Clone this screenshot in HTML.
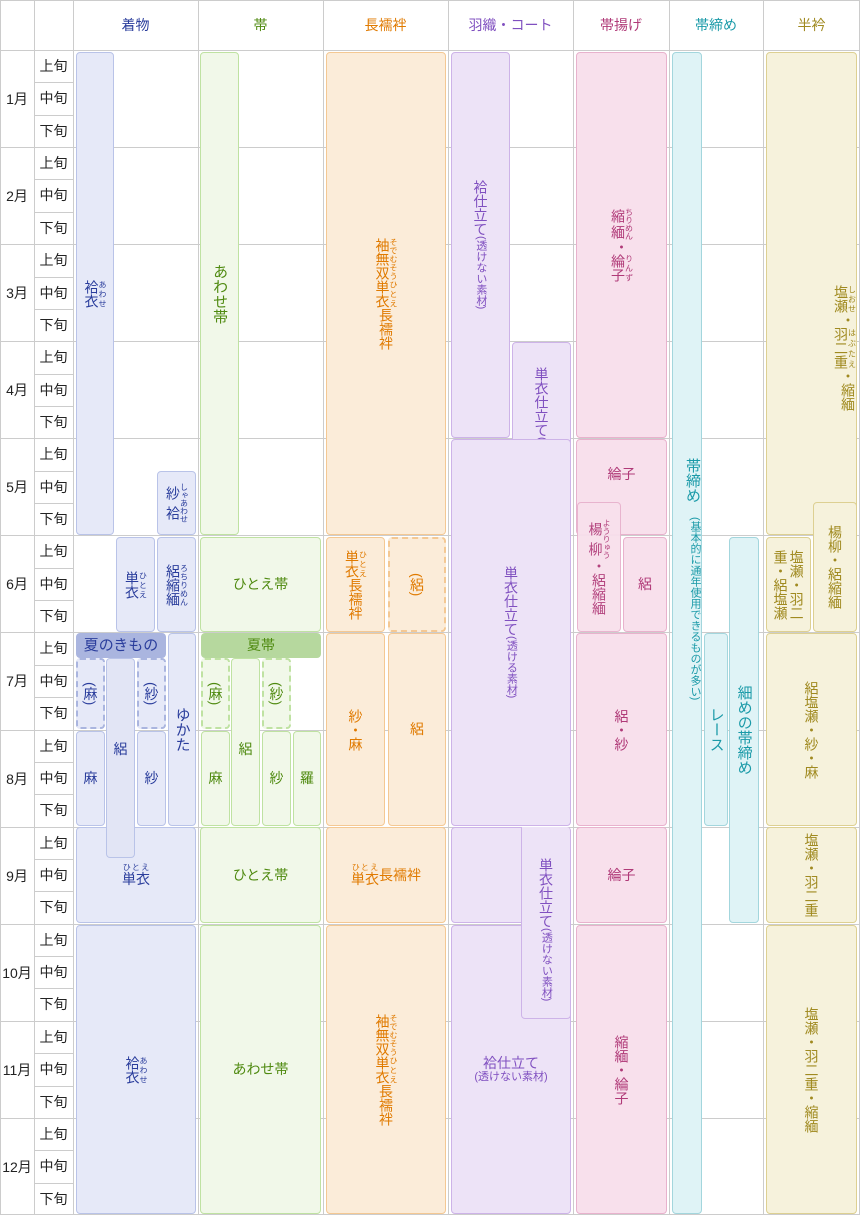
<!DOCTYPE html>
<html><head><meta charset="utf-8">
<style>
body{margin:0;background:#fff;font-family:"Liberation Sans","Noto Sans CJK JP",sans-serif;}
#wrap{position:relative;width:860px;height:1215px;overflow:hidden;}
.ln{position:absolute;background:#cccccc;}
.hd{position:absolute;top:0;height:50px;display:flex;align-items:center;justify-content:center;font-size:14px;}
.lab{position:absolute;display:flex;align-items:center;justify-content:center;font-size:14px;color:#222;}
.b{position:absolute;box-sizing:border-box;border:1px solid;border-radius:4px;display:flex;align-items:center;justify-content:center;font-size:14px;text-align:center;line-height:1.15;}
.v{writing-mode:vertical-rl;}
.s{font-size:11px;}
rt{font-size:8px;}
.dash{border-style:dashed;border-width:2px;}
.k{background:#e6e9f8;border-color:#b9c3e8;color:#2a3d9c;}
.o{background:#f1f8e9;border-color:#bfe2a2;color:#4f8a10;}
.n{background:#fbecd9;border-color:#f4c893;color:#e07a00;}
.h{background:#ede3f7;border-color:#cdb3e8;color:#8050c0;}
.a{background:#f8e0ec;border-color:#e8b2cd;color:#b03a78;}
.j{background:#dff3f6;border-color:#a3d6dd;color:#1a9aa8;}
.e{background:#f6f2dc;border-color:#ddd092;color:#a08a20;}
</style></head><body>
<div id="wrap">
<!-- header -->
<div class="hd" style="left:73px;width:125px;color:#2a3d9c">着物</div>
<div class="hd" style="left:198px;width:125px;color:#4f8a10">帯</div>
<div class="hd" style="left:323px;width:125px;color:#e07a00">長襦袢</div>
<div class="hd" style="left:448px;width:125px;color:#8050c0">羽織・コート</div>
<div class="hd" style="left:573px;width:96px;color:#b03a78">帯揚げ</div>
<div class="hd" style="left:669px;width:94px;color:#1a9aa8">帯締め</div>
<div class="hd" style="left:763px;width:97px;color:#a08a20">半衿</div>

<div id="grid"></div>

<!-- kimono -->
<div class="b k v" style="left:76px;top:52px;width:38px;height:483px"><ruby>袷衣<rt>あわせ</rt></ruby></div>
<div class="b k v" style="left:157px;top:471px;width:39px;height:64px"><ruby>紗袷<rt>しゃあわせ</rt></ruby></div>
<div class="b k v" style="left:116px;top:537px;width:39px;height:95px"><ruby>単衣<rt>ひとえ</rt></ruby></div>
<div class="b k v" style="left:157px;top:537px;width:39px;height:95px"><ruby>絽縮緬<rt>ろちりめん</rt></ruby></div>
<div class="b" style="left:76px;top:633px;width:90px;height:25px;background:#aab5df;border-color:#aab5df;color:#2a3d9c;font-size:15px">夏のきもの</div>
<div class="b k v" style="left:168px;top:633px;width:28px;height:193px;font-size:15px">ゆかた</div>
<div class="b k v dash" style="left:76px;top:658px;width:29px;height:71px;border-color:#aab5df">(麻)</div>
<div class="b k" style="left:106px;top:658px;width:29px;height:200px;align-items:flex-start;padding-top:82px;background:#e2e5f5">絽</div>
<div class="b k v dash" style="left:137px;top:658px;width:29px;height:71px;border-color:#aab5df">(紗)</div>
<div class="b k" style="left:76px;top:731px;width:29px;height:95px">麻</div>
<div class="b k" style="left:137px;top:731px;width:29px;height:95px">紗</div>
<div class="b k" style="left:76px;top:827px;width:120px;height:96px;z-index:0"><ruby>単衣<rt>ひとえ</rt></ruby></div>
<div class="b k" style="left:106px;top:827px;width:29px;height:31px;background:#e2e5f5;border-top:none;border-radius:0 0 4px 4px"></div>
<div class="b k v" style="left:76px;top:925px;width:120px;height:289px"><ruby>袷衣<rt>あわせ</rt></ruby></div>

<!-- obi -->
<div class="b o v" style="left:200px;top:52px;width:39px;height:483px;font-size:15px">あわせ帯</div>
<div class="b o" style="left:200px;top:537px;width:121px;height:95px">ひとえ帯</div>
<div class="b" style="left:201px;top:633px;width:120px;height:25px;background:#b6d89e;border-color:#b6d89e;color:#4f8a10">夏帯</div>
<div class="b o v dash" style="left:201px;top:658px;width:29px;height:71px">(麻)</div>
<div class="b o" style="left:231px;top:658px;width:29px;height:168px;align-items:flex-start;padding-top:82px">絽</div>
<div class="b o v dash" style="left:262px;top:658px;width:29px;height:71px">(紗)</div>
<div class="b o" style="left:201px;top:731px;width:29px;height:95px">麻</div>
<div class="b o" style="left:262px;top:731px;width:29px;height:95px">紗</div>
<div class="b o" style="left:293px;top:731px;width:28px;height:95px">羅</div>
<div class="b o" style="left:200px;top:827px;width:121px;height:96px">ひとえ帯</div>
<div class="b o" style="left:200px;top:925px;width:121px;height:289px">あわせ帯</div>

<!-- nagajuban -->
<div class="b n v" style="left:326px;top:52px;width:120px;height:483px"><ruby>袖無双<rt>そでむそう</rt></ruby><ruby>単衣<rt>ひとえ</rt></ruby>長襦袢</div>
<div class="b n v" style="left:326px;top:537px;width:59px;height:95px"><ruby>単衣<rt>ひとえ</rt></ruby>長襦袢</div>
<div class="b n v dash" style="left:388px;top:537px;width:58px;height:95px">(絽)</div>
<div class="b n v" style="left:326px;top:633px;width:59px;height:193px">紗・麻</div>
<div class="b n" style="left:388px;top:633px;width:58px;height:193px">絽</div>
<div class="b n" style="left:326px;top:827px;width:120px;height:96px"><ruby>単衣<rt>ひとえ</rt></ruby>長襦袢</div>
<div class="b n v" style="left:326px;top:925px;width:120px;height:289px"><ruby>袖無双<rt>そでむそう</rt></ruby><ruby>単衣<rt>ひとえ</rt></ruby>長襦袢</div>

<!-- haori -->
<div class="b h v" style="left:451px;top:52px;width:59px;height:386px">袷仕立て<span class="s">(透けない素材)</span></div>
<div class="b h v" style="left:512px;top:342px;width:59px;height:193px">単衣仕立て<span class="s">(透けない素材)</span></div>
<div class="b h v" style="left:451px;top:439px;width:120px;height:387px">単衣仕立て<span class="s">(透ける素材)</span></div>
<div class="b h" style="left:451px;top:925px;width:120px;height:289px;flex-direction:column">袷仕立て<span class="s">(透けない素材)</span></div>
<div class="b h" style="left:451px;top:827px;width:120px;height:96px;border-radius:4px 4px 0 4px"></div>
<div class="b h v" style="left:521px;top:827px;width:50px;height:192px;border-top:none;border-radius:0 4px 4px 4px;padding-top:14px">単衣仕立て<span class="s">(透けない素材)</span></div>

<!-- obiage -->
<div class="b a v" style="left:576px;top:52px;width:91px;height:386px"><ruby>縮緬<rt>ちりめん</rt></ruby>・<ruby>綸子<rt>りんず</rt></ruby></div>
<div class="b a" style="left:576px;top:439px;width:91px;height:96px;align-items:flex-start;padding-top:26px">綸子</div>
<div class="b a v" style="left:577px;top:502px;width:44px;height:130px;opacity:.95"><ruby>楊柳<rt>ようりゅう</rt></ruby>・絽縮緬</div>
<div class="b a" style="left:623px;top:537px;width:44px;height:95px">絽</div>
<div class="b a v" style="left:576px;top:633px;width:91px;height:193px">絽・紗</div>
<div class="b a" style="left:576px;top:827px;width:91px;height:96px">綸子</div>
<div class="b a v" style="left:576px;top:925px;width:91px;height:289px">縮緬・綸子</div>

<!-- obijime -->
<div class="b j v" style="left:672px;top:52px;width:30px;height:1162px;align-items:flex-start;justify-content:flex-start;padding-top:405px;font-size:15px">帯締め<span class="s" style="margin-top:14px">(基本的に通年使用できるものが多い)</span></div>
<div class="b j v" style="left:704px;top:633px;width:24px;height:193px;font-size:15px">レース</div>
<div class="b j v" style="left:729px;top:537px;width:30px;height:386px;font-size:15px">細めの帯締め</div>

<!-- haneri -->
<div class="b e v" style="left:766px;top:52px;width:91px;height:483px;align-items:flex-start;padding-top:108px"><ruby>塩瀬<rt>しおせ</rt></ruby>・<ruby>羽二重<rt>はぶたえ</rt></ruby>・縮緬</div>
<div class="b e v" style="left:766px;top:537px;width:45px;height:95px">塩瀬・羽二重・絽塩瀬</div>
<div class="b e v" style="left:813px;top:502px;width:44px;height:130px">楊柳・絽縮緬</div>
<div class="b e v" style="left:766px;top:633px;width:91px;height:193px">絽塩瀬・紗・麻</div>
<div class="b e v" style="left:766px;top:827px;width:91px;height:96px">塩瀬・羽二重</div>
<div class="b e v" style="left:766px;top:925px;width:91px;height:289px">塩瀬・羽二重・縮緬</div>
</div>
<script>
const months=['1月','2月','3月','4月','5月','6月','7月','8月','9月','10月','11月','12月'];
const periods=['上旬','中旬','下旬'];
const cols=[0,34,73,198,323,448,573,669,763,859];
const g=document.getElementById('grid');
const top0=50, ph=32.36;
function line(x,y,w,h,n){const d=document.createElement('div');d.className='ln';
d.style.cssText=`left:${x}px;top:${y}px;width:${w}px;height:${h}px`;


g.appendChild(d);}
line(0,0,860,1,'top-border');line(0,50,860,1,'header-line');line(0,1214,860,1,'bottom-border');
cols.forEach((c,i)=>line(c,0,1,1215,'col-line'));
months.forEach((m,i)=>{const y=Math.round(top0+i*3*ph);
if(i>0)line(0,y,860,1,'month-line');
const l=document.createElement('div');l.className='lab';
l.style.cssText=`left:0;top:${y}px;width:34px;height:${Math.round(3*ph)}px`;
l.textContent=m;


g.appendChild(l);
periods.forEach((p,j)=>{const py=Math.round(top0+(i*3+j)*ph);
if(j>0)line(34,py,39,1,'period-line');
const q=document.createElement('div');q.className='lab';
q.style.cssText=`left:34px;top:${py}px;width:39px;height:${Math.round(ph)}px`;
q.textContent=p;


g.appendChild(q);});});
</script>
</body></html>
